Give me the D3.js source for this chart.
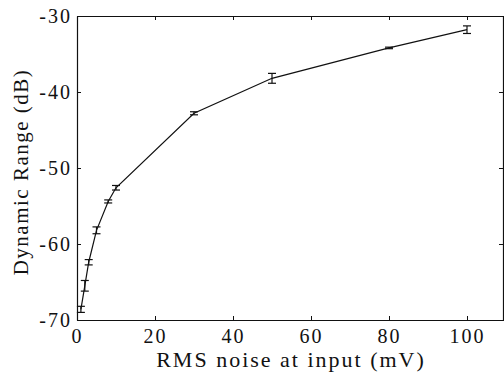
<!DOCTYPE html>
<html>
<head>
<meta charset="utf-8">
<script src="https://cdn.jsdelivr.net/npm/d3@7"></script>
<style>
  body { margin: 0; background: #fff; }
  text { font-family: "Liberation Serif", "Times New Roman", serif; fill: #111; }
</style>
</head>
<body>
<script>
// data
var noise = [1, 2, 3, 5, 8, 10, 30, 50, 80, 100];          // mV
var range = [-68.6, -65.5, -62.4, -58.2, -54.4, -52.6, -42.8, -38.2, -34.2, -31.8]; // dB
var err = [0.4, 0.7, 0.35, 0.45, 0.2, 0.3, 0.2, 0.65, 0.1, 0.5];
var xTicks = [0, 20, 40, 60, 80, 100];
var yTicks = [-30, -40, -50, -60, -70];

var W = 504, H = 374;
var pl = 77, pr = 506, pt = 16, pb = 320;

var svg = d3.select("body").append("svg").attr("width", W).attr("height", H);

var x = d3.scaleLinear().domain([0, 110]).range([pl, pr]);
var y = d3.scaleLinear().domain([-70, -30]).range([pb, pt]);

// plain hyphen for negatives, like the original
var fmt = function(d){ return String(d); };

// axes with inward ticks on all four sides
var axB = svg.append("g").attr("transform", "translate(0," + pb + ")")
  .call(d3.axisBottom(x).tickValues(xTicks).tickSizeInner(-4).tickSizeOuter(0).tickPadding(8).tickFormat(fmt));
var axT = svg.append("g").attr("transform", "translate(0," + pt + ")")
  .call(d3.axisTop(x).tickValues(xTicks).tickSizeInner(-4).tickSizeOuter(0).tickFormat(""));
var axL = svg.append("g").attr("transform", "translate(" + pl + ",0)")
  .call(d3.axisLeft(y).tickValues(yTicks).tickSizeInner(-4).tickSizeOuter(0).tickPadding(7).tickFormat(fmt));
var axR = svg.append("g").attr("transform", "translate(" + (pr - 3) + ",0)")
  .call(d3.axisRight(y).tickValues(yTicks).tickSizeInner(-4).tickSizeOuter(0).tickFormat(""));

[axB, axT, axL, axR].forEach(function(a){
  a.selectAll("path.domain").attr("stroke", "#111").attr("stroke-width", 1.2);
  a.selectAll(".tick line").attr("stroke", "#111");
  a.selectAll("text").attr("font-size", 20).style("letter-spacing", "2px")
    .attr("font-family", "Liberation Serif").attr("fill", "#111");
});
axB.selectAll("text").attr("dy", "0.75em");
axL.selectAll("text").attr("dx", "2px");

// line
var line = d3.line().x(function(d, i){ return x(noise[i]); }).y(function(d){ return y(d); });
svg.append("path").datum(range).attr("d", line)
  .attr("fill", "none").attr("stroke", "#111").attr("stroke-width", 1.2);

// error bars
var eb = svg.append("g").selectAll("g").data(range).join("g");
eb.append("line")
  .attr("x1", function(d, i){ return x(noise[i]); }).attr("x2", function(d, i){ return x(noise[i]); })
  .attr("y1", function(d, i){ return y(d - err[i]); }).attr("y2", function(d, i){ return y(d + err[i]); })
  .attr("stroke", "#111").attr("stroke-width", 1.2);
[-1, 1].forEach(function(s){
  eb.append("line")
    .attr("x1", function(d, i){ return x(noise[i]) - 4; }).attr("x2", function(d, i){ return x(noise[i]) + 4; })
    .attr("y1", function(d, i){ return y(d + s * err[i]); }).attr("y2", function(d, i){ return y(d + s * err[i]); })
    .attr("stroke", "#111").attr("stroke-width", 1.2);
});

// axis titles
svg.append("text").attr("x", 291).attr("y", 367).attr("text-anchor", "middle")
  .attr("font-size", 22).style("letter-spacing", "2px").text("RMS noise at input (mV)");
svg.append("text").attr("transform", "translate(28,172) rotate(-90)").attr("text-anchor", "middle")
  .attr("font-size", 21).style("letter-spacing", "1.5px").text("Dynamic Range (dB)");
</script>
</body>
</html>
